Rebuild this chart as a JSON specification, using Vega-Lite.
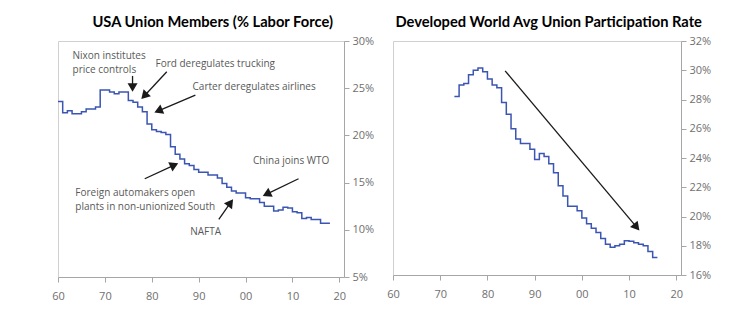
{
  "$schema": "https://vega.github.io/schema/vega-lite/v6.json",
  "padding": {"left": 51, "top": 14, "right": 0, "bottom": 0},
  "autosize": {"type": "pad"},
  "spacing": 49,
  "bounds": "flush",
  "config": {
    "view": {"stroke": "#d0d0d0", "strokeWidth": 1},
    "axis": {"labelFont": "Open Sans", "labelFontSize": 11, "labelColor": "#6f6f6f", "domainColor": "#a6a6a6", "tickColor": "#a6a6a6", "grid": false, "title": null, "tickSize": 5, "labelFlush": false},
    "title": {"font": "Lato", "fontSize": 14.7, "fontWeight": "bold", "color": "#000000", "frame": "bounds", "anchor": "middle", "offset": 5},
    "text": {"font": "Open Sans", "fontSize": 10, "color": "#595959", "align": "left", "baseline": "middle"}
  },
  "datasets": {
    "usa": [
      {"year": 1960, "value": 23.6}, {"year": 1961, "value": 22.4}, {"year": 1962, "value": 22.6}, {"year": 1963, "value": 22.3},
      {"year": 1964, "value": 22.3}, {"year": 1965, "value": 22.5}, {"year": 1966, "value": 22.8}, {"year": 1967, "value": 22.8},
      {"year": 1968, "value": 23.0}, {"year": 1969, "value": 24.8}, {"year": 1970, "value": 24.8}, {"year": 1971, "value": 24.6},
      {"year": 1972, "value": 24.4}, {"year": 1973, "value": 24.6}, {"year": 1974, "value": 24.6}, {"year": 1975, "value": 23.7},
      {"year": 1976, "value": 23.5}, {"year": 1977, "value": 23.0}, {"year": 1978, "value": 22.5}, {"year": 1979, "value": 21.2},
      {"year": 1980, "value": 20.6}, {"year": 1981, "value": 20.4}, {"year": 1982, "value": 20.3}, {"year": 1983, "value": 20.1},
      {"year": 1984, "value": 18.8}, {"year": 1985, "value": 18.0}, {"year": 1986, "value": 17.5}, {"year": 1987, "value": 17.0},
      {"year": 1988, "value": 16.8}, {"year": 1989, "value": 16.4}, {"year": 1990, "value": 16.1}, {"year": 1991, "value": 16.1},
      {"year": 1992, "value": 15.8}, {"year": 1993, "value": 15.8}, {"year": 1994, "value": 15.5}, {"year": 1995, "value": 14.9},
      {"year": 1996, "value": 14.5}, {"year": 1997, "value": 14.1}, {"year": 1998, "value": 13.9}, {"year": 1999, "value": 13.9},
      {"year": 2000, "value": 13.4}, {"year": 2001, "value": 13.3}, {"year": 2002, "value": 13.3}, {"year": 2003, "value": 12.9},
      {"year": 2004, "value": 12.5}, {"year": 2005, "value": 12.5}, {"year": 2006, "value": 12.0}, {"year": 2007, "value": 12.1},
      {"year": 2008, "value": 12.4}, {"year": 2009, "value": 12.3}, {"year": 2010, "value": 11.9}, {"year": 2011, "value": 11.8},
      {"year": 2012, "value": 11.2}, {"year": 2013, "value": 11.3}, {"year": 2014, "value": 11.1}, {"year": 2015, "value": 11.1},
      {"year": 2016, "value": 10.7}, {"year": 2017, "value": 10.7}, {"year": 2018, "value": 10.7}
    ],
    "dev": [
      {"year": 1973, "value": 28.2}, {"year": 1974, "value": 29.0}, {"year": 1975, "value": 29.1}, {"year": 1976, "value": 29.7},
      {"year": 1977, "value": 30.0}, {"year": 1978, "value": 30.15}, {"year": 1979, "value": 29.9}, {"year": 1980, "value": 29.4},
      {"year": 1981, "value": 29.0}, {"year": 1982, "value": 28.8}, {"year": 1983, "value": 27.8}, {"year": 1984, "value": 27.0},
      {"year": 1985, "value": 26.0}, {"year": 1986, "value": 25.3}, {"year": 1987, "value": 25.0}, {"year": 1988, "value": 25.0},
      {"year": 1989, "value": 24.6}, {"year": 1990, "value": 23.9}, {"year": 1991, "value": 24.3}, {"year": 1992, "value": 24.1},
      {"year": 1993, "value": 23.6}, {"year": 1994, "value": 23.0}, {"year": 1995, "value": 22.1}, {"year": 1996, "value": 21.4},
      {"year": 1997, "value": 20.7}, {"year": 1998, "value": 20.7}, {"year": 1999, "value": 20.4}, {"year": 2000, "value": 19.9},
      {"year": 2001, "value": 19.5}, {"year": 2002, "value": 19.2}, {"year": 2003, "value": 18.9}, {"year": 2004, "value": 18.5},
      {"year": 2005, "value": 18.1}, {"year": 2006, "value": 17.9}, {"year": 2007, "value": 18.0}, {"year": 2008, "value": 18.1},
      {"year": 2009, "value": 18.35}, {"year": 2010, "value": 18.3}, {"year": 2011, "value": 18.2}, {"year": 2012, "value": 18.1},
      {"year": 2013, "value": 18.0}, {"year": 2014, "value": 17.6}, {"year": 2015, "value": 17.2}, {"year": 2016, "value": 17.2}
    ],
    "usaNotes": [
      {"year": 1963.1, "value": 28.38, "label": "Nixon institutes"},
      {"year": 1963.1, "value": 26.9, "label": "price controls"},
      {"year": 1980.8, "value": 27.6, "label": "Ford deregulates trucking"},
      {"year": 1988.7, "value": 25.15, "label": "Carter deregulates airlines"},
      {"year": 1963.7, "value": 13.9, "label": "Foreign automakers open"},
      {"year": 1963.7, "value": 12.45, "label": "plants in non-unionized South"},
      {"year": 1988.2, "value": 9.75, "label": "NAFTA"},
      {"year": 2001.6, "value": 17.3, "label": "China joins WTO"}
    ],
    "usaArrows": [
      {"year": 1975.9, "value": 26.3, "year2": 1975.9, "value2": 25.07},
      {"year": 1983.2, "value": 26.74, "year2": 1978.4, "value2": 24.18},
      {"year": 1989.3, "value": 24.27, "year2": 1981.4, "value2": 22.6},
      {"year": 1978.5, "value": 15.41, "year2": 1984.8, "value2": 16.86},
      {"year": 1994.3, "value": 11.1, "year2": 1996.8, "value2": 12.87},
      {"year": 2011.3, "value": 15.41, "year2": 2004.5, "value2": 13.78}
    ],
    "usaHeads": [
      {"year": 1975.9, "value": 25.07, "angle": 180},
      {"year": 1978.4, "value": 24.18, "angle": 223},
      {"year": 1981.4, "value": 22.6, "angle": 247},
      {"year": 1984.8, "value": 16.86, "angle": 65},
      {"year": 1996.8, "value": 12.87, "angle": 36},
      {"year": 2004.5, "value": 13.78, "angle": 244}
    ],
    "devArrows": [
      {"year": 1983.75, "value": 29.96, "year2": 2011.6, "value2": 19.27}
    ],
    "devHeads": [
      {"year": 2011.6, "value": 19.27, "angle": 140}
    ]
  },
  "hconcat": [
    {
      "title": "USA Union Members (% Labor Force)",
      "width": 286,
      "height": 236,
      "encoding": {
        "x": {"field": "year", "type": "quantitative", "scale": {"domain": [1960, 2021], "nice": false, "zero": false},
              "axis": {"values": [1960, 1970, 1980, 1990, 2000, 2010, 2020], "labelExpr": "format(datum.value % 100, '02d')", "labelPadding": 8}},
        "y": {"field": "value", "type": "quantitative", "scale": {"domain": [5, 30], "nice": false, "zero": false},
              "axis": {"orient": "right", "values": [5, 10, 15, 20, 25, 30], "labelExpr": "datum.value + '%'", "labelPadding": 3}}
      },
      "layer": [
        {"data": {"name": "usa"}, "mark": {"type": "line", "interpolate": "step-after", "color": "#3b55b3", "strokeWidth": 1.5}},
        {"data": {"name": "usaArrows"}, "mark": {"type": "rule", "color": "#1a1a1a", "strokeWidth": 1.3}, "encoding": {"x2": {"field": "year2"}, "y2": {"field": "value2"}}},
        {"data": {"name": "usaHeads"}, "mark": {"type": "point", "shape": "triangle-up", "filled": true, "color": "#1a1a1a", "size": 100, "opacity": 1}, "encoding": {"angle": {"field": "angle", "type": "quantitative", "scale": null}}},
        {"data": {"name": "usaNotes"}, "mark": {"type": "text"}, "encoding": {"text": {"field": "label"}}}
      ]
    },
    {
      "title": "Developed World Avg Union Participation Rate",
      "width": 288,
      "height": 234,
      "encoding": {
        "x": {"field": "year", "type": "quantitative", "scale": {"domain": [1960, 2021], "nice": false, "zero": false},
              "axis": {"values": [1960, 1970, 1980, 1990, 2000, 2010, 2020], "labelExpr": "format(datum.value % 100, '02d')", "labelPadding": 8}},
        "y": {"field": "value", "type": "quantitative", "scale": {"domain": [16, 32], "nice": false, "zero": false},
              "axis": {"orient": "right", "values": [16, 18, 20, 22, 24, 26, 28, 30, 32], "labelExpr": "datum.value + '%'", "labelPadding": 3}}
      },
      "layer": [
        {"data": {"name": "dev"}, "mark": {"type": "line", "interpolate": "step-after", "color": "#3b55b3", "strokeWidth": 1.5}},
        {"data": {"name": "devArrows"}, "mark": {"type": "rule", "color": "#1a1a1a", "strokeWidth": 1.3}, "encoding": {"x2": {"field": "year2"}, "y2": {"field": "value2"}}},
        {"data": {"name": "devHeads"}, "mark": {"type": "point", "shape": "triangle-up", "filled": true, "color": "#1a1a1a", "size": 100, "opacity": 1}, "encoding": {"angle": {"field": "angle", "type": "quantitative", "scale": null}}}
      ]
    }
  ]
}
